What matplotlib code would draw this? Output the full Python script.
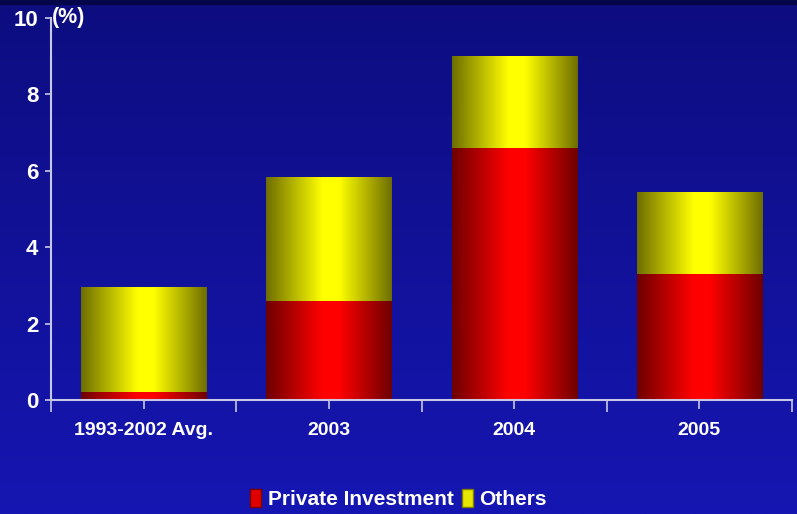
import numpy as np
import matplotlib.pyplot as plt
from matplotlib.colors import LinearSegmentedColormap
from matplotlib.patches import Patch

categories = ["1993-2002 Avg.", "2003", "2004", "2005"]
private_investment = [0.2, 2.6, 6.6, 3.3]
others = [2.75, 3.25, 2.4, 2.15]
series_names = ["Private Investment", "Others"]

FONT = ["Liberation Sans", "DejaVu Sans"]
plt.rcParams["font.family"] = FONT
plt.rcParams["font.weight"] = "bold"


def bar_cmap(dark, bright):
    return LinearSegmentedColormap.from_list(
        "g", [(0.0, dark), (0.45, bright), (0.58, bright), (1.0, dark)])


red_map = bar_cmap("#6e0000", "#ff0000")
yellow_map = bar_cmap("#6e6e00", "#ffff00")


def shade_bars(ax, bars, cmap):
    grad = np.linspace(0, 1, 256).reshape(1, -1)
    for b in bars:
        x0, y0 = b.get_x(), b.get_y()
        w, h = b.get_width(), b.get_height()
        b.set_facecolor("none")
        b.set_edgecolor("none")
        im = ax.imshow(grad, cmap=cmap, aspect="auto",
                       extent=(x0, x0 + w, y0, y0 + h), zorder=2)
        im.set_clip_path(b)


def main():
    fig = plt.figure(figsize=(7.97, 5.14), dpi=100)

    # background gradient
    bg = fig.add_axes([0, 0, 1, 1], zorder=-1)
    bg_grad = np.linspace(0, 1, 256).reshape(-1, 1)
    bg_map = LinearSegmentedColormap.from_list("bg", ["#0d0d80", "#1616b2"])
    bg.imshow(bg_grad, cmap=bg_map, aspect="auto", extent=(0, 1, 0, 1))
    bg.axhspan(1 - 4 / 514, 1, color="#05054a")
    bg.set_xlim(0, 1)
    bg.set_ylim(0, 1)
    bg.axis("off")

    ax = fig.add_axes([51 / 797, 114 / 514, 741 / 797, 382 / 514])
    ax.patch.set_alpha(0)
    x = np.arange(len(categories))
    width = 0.675
    b1 = ax.bar(x, private_investment, width, zorder=2)
    b2 = ax.bar(x, others, width, bottom=private_investment, zorder=2)
    shade_bars(ax, b1, red_map)
    shade_bars(ax, b2, yellow_map)

    ax.set_xlim(-0.5, 3.5)
    ax.set_ylim(0, 10)
    ax.set_yticks([0, 2, 4, 6, 8, 10])
    ax.set_xticks(x)
    ax.set_xticklabels(categories)
    ax.set_xticks([-0.5, 0.5, 1.5, 2.5, 3.5], minor=True)

    axis_col = "#c8c8e6"
    for s in ["top", "right"]:
        ax.spines[s].set_visible(False)
    for s in ["left", "bottom"]:
        ax.spines[s].set_color(axis_col)
        ax.spines[s].set_linewidth(1.5)
        ax.spines[s].set_zorder(3)
    ax.tick_params(axis="y", colors=axis_col, labelcolor="white",
                   length=4, width=1.2, labelsize=16, pad=5)
    ax.tick_params(axis="x", which="major", colors=axis_col, labelcolor="white",
                   length=6.5, width=1.2, labelsize=14, pad=9)
    ax.tick_params(axis="x", which="minor", colors=axis_col, length=8.5, width=1.2)
    for lab in ax.get_xticklabels() + ax.get_yticklabels():
        lab.set_fontweight("bold")

    ax.text(-0.497, 10, "(%)", color="white", fontsize=15.5, fontweight="bold",
            va="center", ha="left")

    handles = [Patch(facecolor="#e00000", edgecolor="#800000"),
               Patch(facecolor="#e6e600", edgecolor="#808000")]
    fig.legend(handles, series_names, loc="center", ncol=2,
               bbox_to_anchor=(0.5, 1 - 499 / 514), frameon=False,
               prop={"size": 15, "weight": "bold"}, labelcolor="white",
               handlelength=0.55, handleheight=1.0, handletextpad=0.3,
               columnspacing=0.4)

    fig.savefig("out.png", dpi=100)


if __name__ == "__main__":
    main()
